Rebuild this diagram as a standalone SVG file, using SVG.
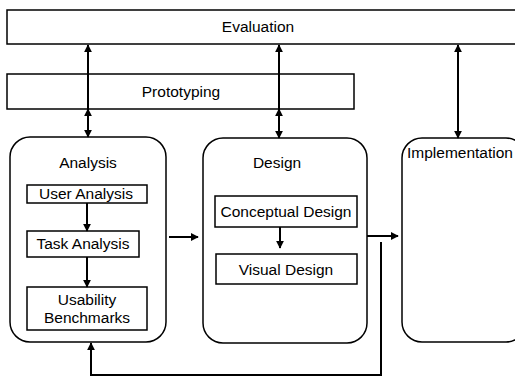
<svg xmlns="http://www.w3.org/2000/svg" width="515" height="378" viewBox="0 0 515 378">
  <style>
    .box { fill: #fff; stroke: #000; stroke-width: 1.5; }
    .lbl { font-family: "Liberation Sans", Arial, sans-serif; font-size: 15.5px; fill: #000; text-anchor: middle; }
    .wire { fill: none; stroke: #000; stroke-width: 2; }
  </style>
  <defs>
    <marker id="ah" viewBox="0 0 10 10" refX="9" refY="5" markerWidth="4" markerHeight="4" orient="auto-start-reverse" markerUnits="strokeWidth">
      <path d="M0,0 L10,5 L0,10 z" fill="#000"/>
    </marker>
  </defs>
  <rect width="515" height="378" fill="#fff"/>

  <g id="evaluation">
    <rect class="box" x="7" y="10" width="512" height="34"/>
    <text class="lbl" x="258" y="32">Evaluation</text>
  </g>
  <g id="prototyping">
    <rect class="box" x="7" y="74" width="347" height="35"/>
    <text class="lbl" x="181" y="97">Prototyping</text>
  </g>

  <g id="analysis">
    <rect class="box" x="10" y="137" width="156" height="205" rx="20"/>
    <text class="lbl" x="88" y="168">Analysis</text>
  </g>
  <g id="user-analysis">
    <rect class="box" x="27" y="185" width="120" height="18"/>
    <text class="lbl" x="86" y="199">User Analysis</text>
  </g>
  <g id="task-analysis">
    <rect class="box" x="27" y="231" width="112" height="26"/>
    <text class="lbl" x="83" y="249">Task Analysis</text>
  </g>
  <g id="usability-benchmarks">
    <rect class="box" x="27" y="287" width="120" height="43"/>
    <text class="lbl" x="87" y="305">Usability</text>
    <text class="lbl" x="87" y="323">Benchmarks</text>
  </g>

  <g id="design">
    <rect class="box" x="203" y="138" width="164" height="205" rx="20"/>
    <text class="lbl" x="277" y="168">Design</text>
  </g>
  <g id="conceptual-design">
    <rect class="box" x="215" y="196" width="142" height="31"/>
    <text class="lbl" x="286" y="217">Conceptual Design</text>
  </g>
  <g id="visual-design">
    <rect class="box" x="216" y="254" width="141" height="30"/>
    <text class="lbl" x="286" y="275">Visual Design</text>
  </g>

  <g id="implementation">
    <rect class="box" x="402" y="138" width="124" height="204" rx="20"/>
    <text class="lbl" x="460" y="158">Implementation</text>
  </g>

  <g id="connectors">
    <!-- Evaluation / Prototyping / Analysis -->
    <line class="wire" x1="88" y1="137" x2="88" y2="45" marker-start="url(#ah)" marker-end="url(#ah)"/>
    <line class="wire" x1="88" y1="118" x2="88" y2="109" marker-end="url(#ah)"/>
    <!-- Evaluation / Prototyping / Design -->
    <line class="wire" x1="279" y1="138" x2="279" y2="45" marker-start="url(#ah)" marker-end="url(#ah)"/>
    <line class="wire" x1="279" y1="118" x2="279" y2="109" marker-end="url(#ah)"/>
    <!-- Evaluation / Implementation -->
    <line class="wire" x1="458" y1="138" x2="458" y2="45" marker-start="url(#ah)" marker-end="url(#ah)"/>

    <!-- inner steps -->
    <line class="wire" x1="87" y1="203" x2="87" y2="231" marker-end="url(#ah)"/>
    <line class="wire" x1="87" y1="257" x2="87" y2="287" marker-end="url(#ah)"/>
    <line class="wire" x1="280" y1="227" x2="280" y2="248" marker-end="url(#ah)"/>

    <!-- phase flow -->
    <line class="wire" x1="169" y1="237" x2="198" y2="237" marker-end="url(#ah)"/>
    <line class="wire" x1="367" y1="236" x2="398" y2="236" marker-end="url(#ah)"/>

    <!-- feedback loop back to Analysis -->
    <polyline class="wire" points="381,242 381,375 91,375 91,343" marker-end="url(#ah)"/>
  </g>
</svg>
